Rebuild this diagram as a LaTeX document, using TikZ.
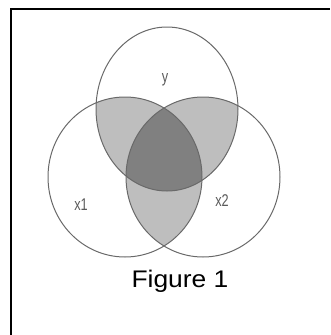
\documentclass[tikz,border=0pt]{standalone}
\usepackage{fontspec}
\setmainfont{Liberation Sans}
\definecolor{lightfill}{RGB}{190,190,190}
\definecolor{darkfill}{RGB}{128,128,128}
\definecolor{edge}{RGB}{105,105,105}
\definecolor{lbl}{RGB}{90,90,90}
\begin{document}
\begin{tikzpicture}[x=1pt,y=-1pt,
  setline/.style={draw=edge,line width=1pt},
  setlabel/.style={text=lbl,font=\fontsize{17}{17}\selectfont,xscale=0.75,inner sep=0pt},
  frameline/.style={line width=2pt,black}]
\useasboundingbox (0,0) rectangle (330,335);
\def\setY{(167,109) ellipse [x radius=71,y radius=82]}
\def\setA{(125,177) ellipse [x radius=77,y radius=80]}
\def\setB{(203,177) ellipse [x radius=77,y radius=80]}
% pairwise intersections
\begin{scope}\clip \setY; \fill[lightfill] \setA; \end{scope}
\begin{scope}\clip \setY; \fill[lightfill] \setB; \end{scope}
\begin{scope}\clip \setA; \fill[lightfill] \setB; \end{scope}
% triple intersection
\begin{scope}\clip \setY; \clip \setA; \fill[darkfill] \setB; \end{scope}
% outlines
\draw[setline] \setY;
\draw[setline] \setA;
\draw[setline] \setB;
% labels
\node[setlabel] (ly) at (165,80) {y};
\node[setlabel] (lx1) at (81,205) {x1};
\node[setlabel] (lx2) at (222,201) {x2};
\node[font=\fontsize{24}{24}\selectfont,xscale=1.1,inner sep=0pt] (cap) at (180,281) {Figure 1};
% frame
\draw[frameline] (11,335) -- (11,8.5) -- (330,8.5);
\end{tikzpicture}
\end{document}
